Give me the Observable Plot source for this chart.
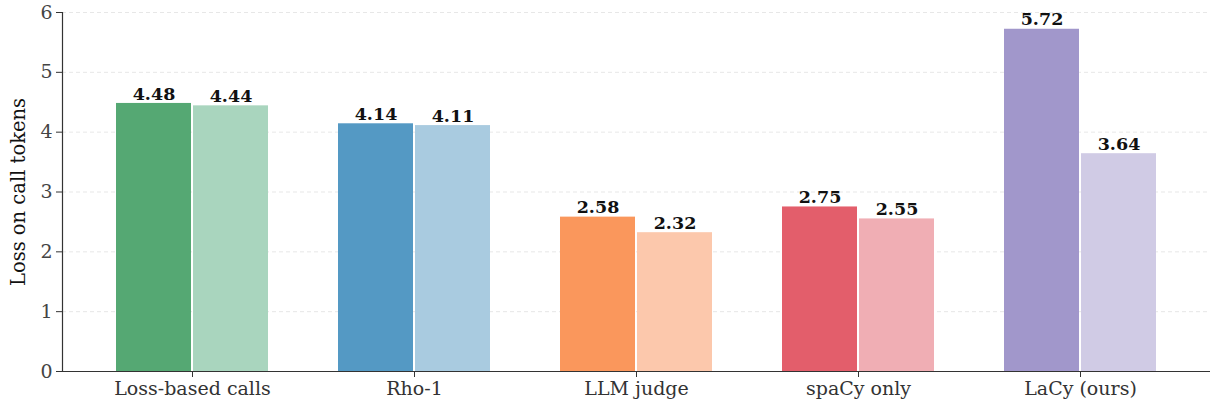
<!DOCTYPE html>
<html>
<head>
<meta charset="utf-8">
<script src="https://cdn.jsdelivr.net/npm/d3@7"></script>
<script src="https://cdn.jsdelivr.net/npm/@observablehq/plot@0.6"></script>
<style>
  html, body { margin: 0; padding: 0; background: #fff; }
  svg { font-family: "DejaVu Serif", serif; }
</style>
</head>
<body>
<div id="chart"></div>
<script>
const methods = ["Loss-based calls", "Rho-1", "LLM judge", "spaCy only", "LaCy (ours)"];
const valuesA = [4.48, 4.14, 2.58, 2.75, 5.72];
const valuesB = [4.44, 4.11, 2.32, 2.55, 3.64];
const darkColors = ["#55a873", "#5499c4", "#fa975c", "#e35e6b", "#a197cb"];
const lightColors = ["#a9d5be", "#a9cbe0", "#fcc8ac", "#f0aeb4", "#d0cbe5"];
const yTicks = [0, 1, 2, 3, 4, 5, 6];

const dataA = methods.map((m, i) => ({method: m, value: valuesA[i], color: darkColors[i]}));
const dataB = methods.map((m, i) => ({method: m, value: valuesB[i], color: lightColors[i]}));

const chart = Plot.plot({
  width: 1211,
  height: 404,
  marginLeft: 62,
  marginRight: 1,
  marginTop: 12,
  marginBottom: 33,
  style: {fontFamily: "DejaVu Serif, serif", fontSize: "19px", color: "#333"},
  x: {domain: methods, paddingInner: 0.315, paddingOuter: 0.243, label: null, axis: null},
  y: {domain: [0, 6], label: null, axis: null},
  marks: [
    Plot.gridY(yTicks.filter(d => d > 0), {stroke: "#ccc", strokeOpacity: 0.6, strokeDasharray: "4,3", strokeWidth: 0.8}),
    Plot.barY(dataA, {x: "method", y: "value", fill: "color", insetRight: 77}),
    Plot.barY(dataB, {x: "method", y: "value", fill: "color", insetLeft: 77}),
    Plot.text(dataA, {x: "method", y: "value", text: d => d.value.toFixed(2), dx: -38.5, dy: -9.5, fontWeight: "bold", fontSize: 17.5, fill: "#111"}),
    Plot.text(dataB, {x: "method", y: "value", text: d => d.value.toFixed(2), dx: 38.5, dy: -9.5, fontWeight: "bold", fontSize: 17.5, fill: "#111"}),
    Plot.axisY(yTicks, {tickSize: 6, tickPadding: 4, fontSize: 19, tickFormat: d => String(d), stroke: "#333", fill: "#444", label: null}),
    Plot.text(["Loss on call tokens"], {frameAnchor: "left", textAnchor: "middle", rotate: -90, dx: -44, fontSize: 19.5, fill: "#111"}),
    Plot.ruleY([0], {stroke: "#333", strokeWidth: 1.2}),
    Plot.frame({anchor: "left", stroke: "#333", strokeWidth: 1.2}),
    Plot.axisX({tickSize: 6, tickPadding: 4, fontSize: 19, stroke: "#333", fill: "#333", label: null})
  ]
});
document.getElementById("chart").appendChild(chart);
</script>
</body>
</html>
